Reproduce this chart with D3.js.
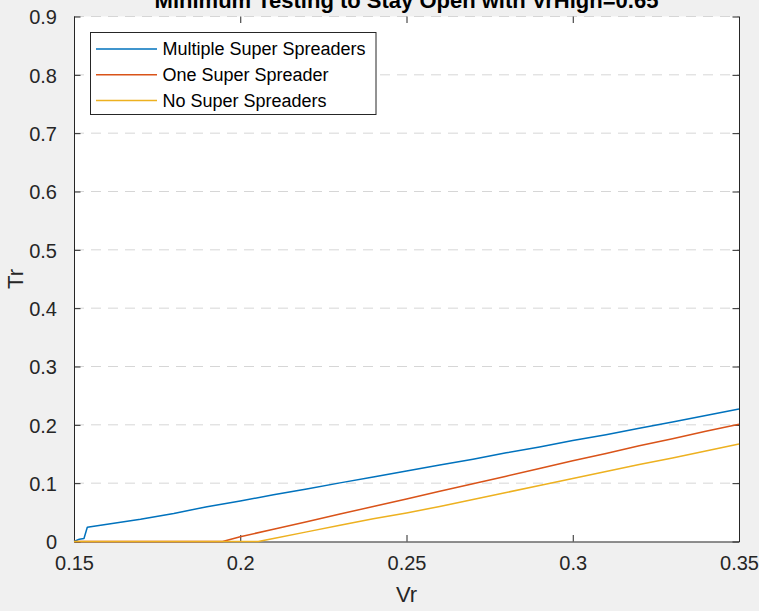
<!DOCTYPE html>
<html>
<head>
<meta charset="utf-8">
<script src="https://cdn.jsdelivr.net/npm/d3@7"></script>
<style>
  html, body { margin: 0; padding: 0; background: #f0f0f0; }
  svg { display: block; font-family: "Liberation Sans", Arial, Helvetica, sans-serif; }
</style>
</head>
<body>
<svg id="chart" width="759" height="611"></svg>
<script>
// Minimum testing rate (Tr) needed to stay open, as a function of Vr
const titleText = "Minimum Testing to Stay Open with VrHigh=0.65";
const xLabel = "Vr";
const yLabel = "Tr";
const xTicks = [0.15, 0.2, 0.25, 0.3, 0.35];
const yTicks = [0, 0.1, 0.2, 0.3, 0.4, 0.5, 0.6, 0.7, 0.8, 0.9];
const seriesNames = ["Multiple Super Spreaders", "One Super Spreader", "No Super Spreaders"];
const seriesColors = ["#0072BD", "#D95319", "#EDB120"];

const multipleVr = [0.150, 0.1516, 0.1530, 0.1540, 0.16, 0.17, 0.18, 0.19, 0.20, 0.21, 0.22, 0.23, 0.24, 0.25, 0.26, 0.27, 0.28, 0.29, 0.30, 0.31, 0.32, 0.33, 0.34, 0.35];
const multipleTr = [0, 0.004, 0.005, 0.0243, 0.0295, 0.038, 0.048, 0.0597, 0.0694, 0.080, 0.090, 0.1005, 0.1105, 0.121, 0.131, 0.141, 0.152, 0.162, 0.173, 0.183, 0.194, 0.205, 0.216, 0.227];

const oneVr = [0.150, 0.1947, 0.20, 0.21, 0.22, 0.23, 0.24, 0.25, 0.26, 0.27, 0.28, 0.29, 0.30, 0.31, 0.32, 0.33, 0.34, 0.35];
const oneTr = [0, 0, 0.0082, 0.021, 0.034, 0.047, 0.060, 0.073, 0.086, 0.099, 0.112, 0.125, 0.1385, 0.151, 0.164, 0.176, 0.189, 0.201];

const noneVr = [0.150, 0.2054, 0.21, 0.22, 0.23, 0.24, 0.25, 0.26, 0.27, 0.28, 0.29, 0.30, 0.31, 0.32, 0.33, 0.34, 0.35];
const noneTr = [0, 0, 0.005, 0.0165, 0.028, 0.039, 0.049, 0.060, 0.072, 0.084, 0.096, 0.108, 0.120, 0.132, 0.143, 0.155, 0.167];

const seriesVr = [multipleVr, oneVr, noneVr];
const seriesTr = [multipleTr, oneTr, noneTr];

const svg = d3.select("#chart");
const W = 759, H = 611;
const margin = { left: 74, right: 20, top: 16.5, bottom: 69.5 };
const plotW = W - margin.left - margin.right;
const plotH = H - margin.top - margin.bottom;

const x = d3.scaleLinear().domain([0.15, 0.35]).range([margin.left, margin.left + plotW]);
const y = d3.scaleLinear().domain([0, 0.9]).range([margin.top + plotH, margin.top]);

const axisColor = "#262626";
const tickLen = 6.5;

// plot area
svg.append("rect")
  .attr("x", margin.left).attr("y", margin.top)
  .attr("width", plotW).attr("height", plotH)
  .attr("fill", "#ffffff");

// horizontal dashed grid
svg.append("g")
  .selectAll("line")
  .data(yTicks.filter(d => d > 0))
  .join("line")
  .attr("x1", margin.left).attr("x2", margin.left + plotW)
  .attr("y1", d => y(d)).attr("y2", d => y(d))
  .attr("stroke", "#d6d6d6")
  .attr("stroke-width", 1)
  .attr("stroke-dasharray", "10,7");

// axes: left / bottom with labels, right / top as tick-only mirrors
const fmt = d => d3.format("")(+d.toFixed(2));

const gx = svg.append("g")
  .attr("transform", `translate(0,${margin.top + plotH})`)
  .call(d3.axisBottom(x).tickValues(xTicks).tickFormat(fmt).tickSizeInner(-tickLen).tickSizeOuter(0).tickPadding(14));

const gxTop = svg.append("g")
  .attr("transform", `translate(0,${margin.top})`)
  .call(d3.axisTop(x).tickValues(xTicks).tickFormat("").tickSizeInner(-tickLen).tickSizeOuter(0));
gxTop.select(".domain").remove();

const gy = svg.append("g")
  .attr("transform", `translate(${margin.left},0)`)
  .call(d3.axisLeft(y).tickValues(yTicks).tickFormat(fmt).tickSizeInner(-tickLen).tickSizeOuter(0).tickPadding(17));

const gyRight = svg.append("g")
  .attr("transform", `translate(${margin.left + plotW},0)`)
  .call(d3.axisRight(y).tickValues(yTicks).tickFormat("").tickSizeInner(-tickLen).tickSizeOuter(0));

[gx, gxTop, gy, gyRight].forEach(g => {
  g.selectAll(".domain").attr("stroke", axisColor).attr("stroke-width", 1);
  g.selectAll(".tick line").attr("stroke", axisColor).attr("stroke-width", 1);
  g.selectAll(".tick text")
    .attr("fill", "#262626")
    .style("font-size", "20px")
    .style("font-family", "'Liberation Sans', Arial, sans-serif");
});
gy.selectAll(".tick text").attr("dy", "0.36em");

// data lines
const line = d3.line()
  .x(d => x(d[0]))
  .y(d => y(d[1]));

seriesNames.forEach((name, i) => {
  const pts = seriesVr[i].map((v, j) => [v, seriesTr[i][j]]);
  svg.append("path")
    .datum(pts)
    .attr("fill", "none")
    .attr("stroke", seriesColors[i])
    .attr("stroke-width", 1.5)
    .attr("stroke-linejoin", "round")
    .attr("d", line);
});

// title and axis labels
svg.append("text")
  .attr("x", margin.left + plotW / 2).attr("y", 8)
  .attr("text-anchor", "middle")
  .attr("font-weight", "bold")
  .attr("font-size", "22px")
  .attr("fill", "#000")
  .text(titleText);

svg.append("text")
  .attr("x", margin.left + plotW / 2).attr("y", 602)
  .attr("text-anchor", "middle")
  .attr("font-size", "22px")
  .attr("fill", "#262626")
  .text(xLabel);

svg.append("text")
  .attr("transform", `translate(23,${margin.top + plotH / 2}) rotate(-90)`)
  .attr("text-anchor", "middle")
  .attr("font-size", "22px")
  .attr("fill", "#262626")
  .text(yLabel);

// legend
const legend = svg.append("g");
legend.append("rect")
  .attr("x", 90.5).attr("y", 32.5)
  .attr("width", 285.5).attr("height", 82)
  .attr("fill", "#ffffff")
  .attr("stroke", axisColor)
  .attr("stroke-width", 1);

seriesNames.forEach((name, i) => {
  const ry = 49 + i * 25.8;
  legend.append("line")
    .attr("x1", 96).attr("x2", 157)
    .attr("y1", ry).attr("y2", ry)
    .attr("stroke", seriesColors[i])
    .attr("stroke-width", 1.5);
  legend.append("text")
    .attr("x", 162.5).attr("y", ry)
    .attr("dy", "0.36em")
    .attr("font-size", "18px")
    .attr("fill", "#000")
    .text(name);
});
</script>
</body>
</html>
